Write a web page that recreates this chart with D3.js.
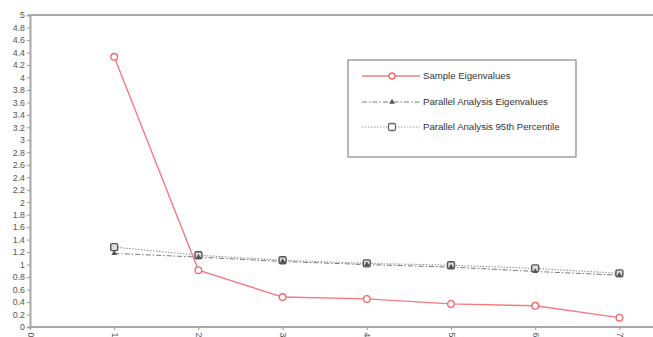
<!DOCTYPE html>
<html>
<head>
<meta charset="utf-8">
<script src="https://cdn.jsdelivr.net/npm/d3@7"></script>
<style>
  html, body { margin: 0; padding: 0; background: #fff; }
  svg { display: block; font-family: "Liberation Sans", Arial, sans-serif; }
</style>
</head>
<body>
<svg id="chart" width="653" height="337"></svg>
<script>
// Scree plot: sample eigenvalues vs. parallel analysis
const components = [1, 2, 3, 4, 5, 6, 7];
const sampleEigen = [4.33, 0.91, 0.48, 0.45, 0.37, 0.34, 0.15];
const parallelMean = [1.18, 1.12, 1.05, 1.00, 0.96, 0.89, 0.83];
const parallel95 = [1.28, 1.15, 1.07, 1.02, 0.99, 0.94, 0.86];
const xTicks = [0, 1, 2, 3, 4, 5, 6, 7];
const yTicks = d3.range(0, 5.0001, 0.2).map(v => +v.toFixed(1));
const seriesNames = ["Sample Eigenvalues", "Parallel Analysis Eigenvalues", "Parallel Analysis 95th Percentile"];

const svg = d3.select("#chart");
const mLeft = 30, mTop = 15, mBottom = 327, mRight = 653;

const x = d3.scaleLinear().domain([0, 7.4]).range([mLeft, mLeft + 84.2 * 7.4]);
const y = d3.scaleLinear().domain([0, 5]).range([mBottom, mTop]);

// Top frame line
svg.append("line")
  .attr("x1", mLeft).attr("x2", mRight).attr("y1", mTop).attr("y2", mTop)
  .attr("stroke", "#a8a8a8").attr("stroke-width", 2);

// Y axis
const yAxis = svg.append("g")
  .attr("transform", `translate(${mLeft},0)`)
  .call(d3.axisLeft(y).tickValues(yTicks).tickSize(3).tickPadding(2)
    .tickFormat(d => d3.format("~g")(d)));
yAxis.select(".domain").attr("stroke", "#a8a8a8").attr("stroke-width", 2);
yAxis.selectAll(".tick line").attr("stroke", "#999");
yAxis.selectAll(".tick text").attr("fill", "#555").attr("font-size", 8.8);

// X axis with rotated labels
const xAxis = svg.append("g")
  .attr("transform", `translate(0,${mBottom})`)
  .call(d3.axisBottom(x).tickValues(xTicks).tickSize(3).tickFormat(d3.format("d")));
xAxis.select(".domain").attr("d", `M${mLeft},0H${mRight}`)
  .attr("stroke", "#a8a8a8").attr("stroke-width", 2);
xAxis.selectAll(".tick line").attr("stroke", "#999");
xAxis.selectAll(".tick text")
  .attr("fill", "#555").attr("font-size", 8.8)
  .attr("transform", "rotate(90)")
  .attr("x", 8).attr("y", 0).attr("dy", "0.32em")
  .attr("text-anchor", "middle");

const line = d3.line().x((d, i) => x(components[i])).y(d => y(d));

// Parallel analysis 95th percentile (dotted, squares)
svg.append("path").datum(parallel95)
  .attr("d", line).attr("fill", "none")
  .attr("stroke", "#9a9a9a").attr("stroke-width", 1.2).attr("stroke-dasharray", "1.5,1.5");
svg.selectAll(".sq").data(parallel95).join("rect")
  .attr("x", (d, i) => x(components[i]) - 3.5).attr("y", d => y(d) - 3.5)
  .attr("width", 7).attr("height", 7).attr("rx", 1.5)
  .attr("fill", "#ddd").attr("stroke", "#555").attr("stroke-width", 1.4);

// Parallel analysis mean (dash-dot, triangles)
svg.append("path").datum(parallelMean)
  .attr("d", line).attr("fill", "none")
  .attr("stroke", "#777").attr("stroke-width", 1).attr("stroke-dasharray", "5,2,1.5,2");
svg.selectAll(".tri").data(parallelMean).join("path")
  .attr("d", d3.symbol(d3.symbolTriangle, 14))
  .attr("transform", (d, i) => `translate(${x(components[i])},${y(d)})`)
  .attr("fill", "#555");

// Sample eigenvalues (solid red, circles)
svg.append("path").datum(sampleEigen)
  .attr("d", line).attr("fill", "none")
  .attr("stroke", "#f47a80").attr("stroke-width", 1.4);
svg.selectAll(".dot").data(sampleEigen).join("circle")
  .attr("cx", (d, i) => x(components[i])).attr("cy", d => y(d)).attr("r", 3.3)
  .attr("fill", "#fff").attr("stroke", "#f26a72").attr("stroke-width", 1.4);

// Legend
const lg = svg.append("g").attr("transform", "translate(348,60)");
lg.append("rect").attr("width", 228).attr("height", 97)
  .attr("fill", "#fff").attr("stroke", "#888").attr("stroke-width", 1.2);
const rows = [16, 42, 67];
// row 1
lg.append("line").attr("x1", 14).attr("x2", 72).attr("y1", rows[0]).attr("y2", rows[0])
  .attr("stroke", "#f47a80").attr("stroke-width", 1.4);
lg.append("circle").attr("cx", 44).attr("cy", rows[0]).attr("r", 3)
  .attr("fill", "#fff").attr("stroke", "#f26a72").attr("stroke-width", 1.4);
// row 2
lg.append("line").attr("x1", 14).attr("x2", 72).attr("y1", rows[1]).attr("y2", rows[1])
  .attr("stroke", "#777").attr("stroke-width", 1).attr("stroke-dasharray", "5,2,1.5,2");
lg.append("path").attr("d", d3.symbol(d3.symbolTriangle, 14))
  .attr("transform", `translate(44,${rows[1]})`).attr("fill", "#555");
// row 3
lg.append("line").attr("x1", 14).attr("x2", 72).attr("y1", rows[2]).attr("y2", rows[2])
  .attr("stroke", "#9a9a9a").attr("stroke-width", 1.2).attr("stroke-dasharray", "1.5,1.5");
lg.append("rect").attr("x", 40.5).attr("y", rows[2] - 3.5).attr("width", 7).attr("height", 7)
  .attr("rx", 1.5).attr("fill", "#fff").attr("stroke", "#666").attr("stroke-width", 1.3);
lg.selectAll(".lt").data(seriesNames).join("text")
  .attr("x", 75).attr("y", (d, i) => rows[i]).attr("dy", "0.35em")
  .attr("font-size", 9.6).attr("fill", "#333").text(d => d);
</script>
</body>
</html>
